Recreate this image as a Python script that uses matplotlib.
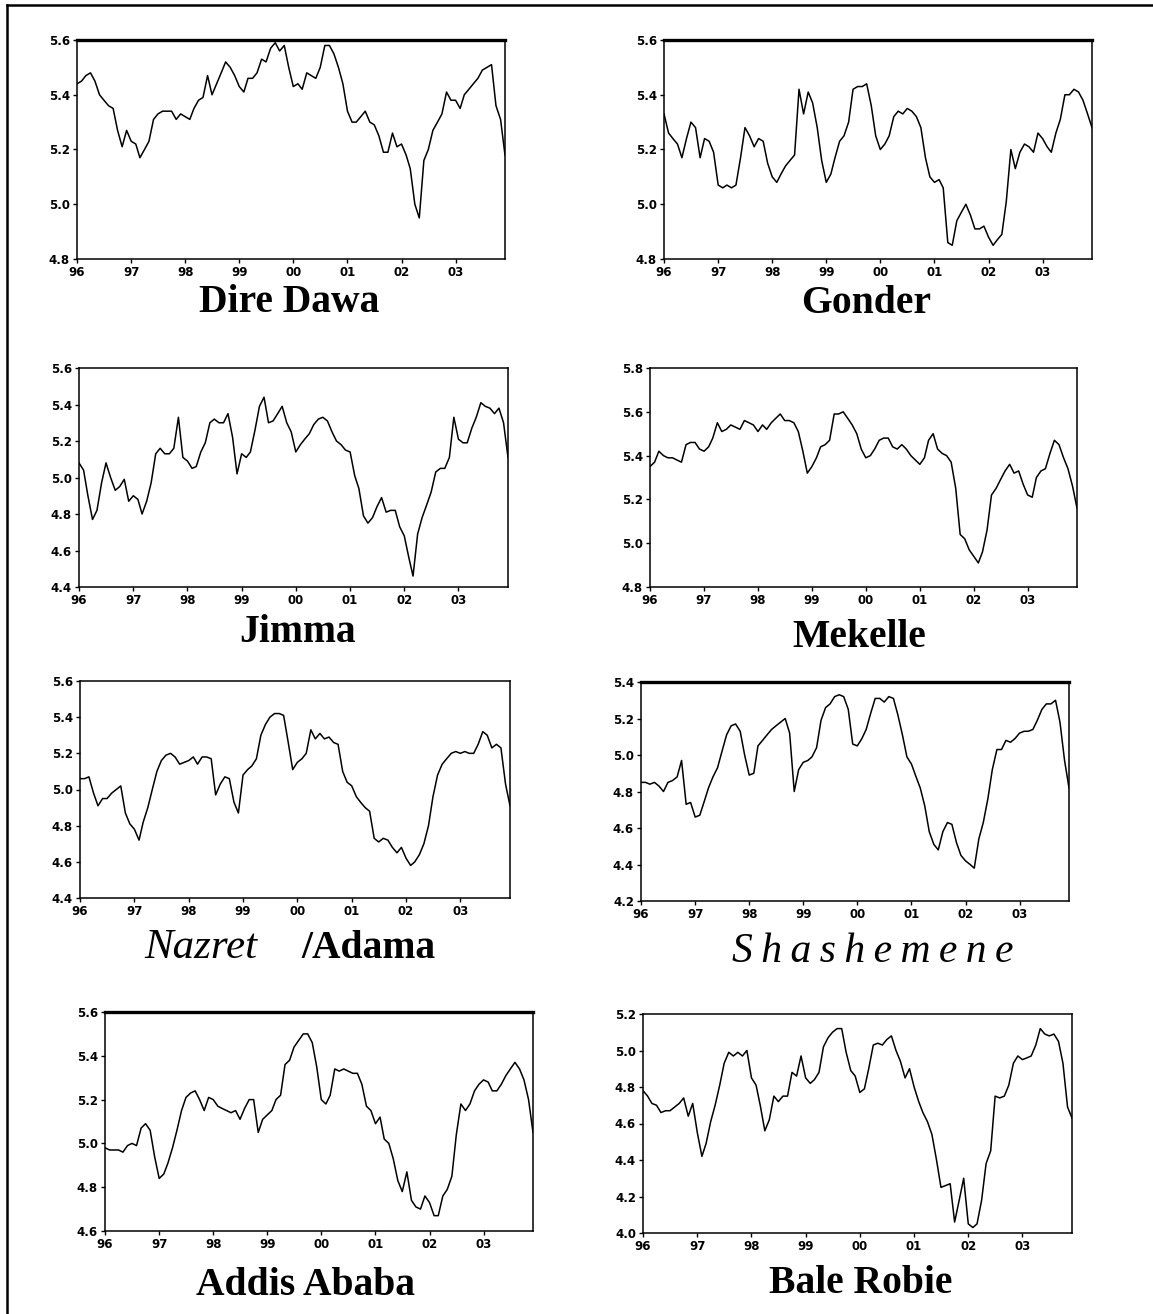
import matplotlib
matplotlib.use("Agg")
import matplotlib.pyplot as plt
import pandas as pd
from matplotlib.lines import Line2D

# monthly log prices, Jan 1996 - Dec 2003
months = pd.date_range("1996-01-01", periods=96, freq="MS")
year_ticks = pd.date_range("1996-01-01", "2003-01-01", freq="YS")

dire_dawa = [
    5.44, 5.45, 5.47, 5.48, 5.45, 5.40, 5.38, 5.36, 5.35, 5.27, 5.21, 5.27,
    5.23, 5.22, 5.17, 5.20, 5.23, 5.31, 5.33, 5.34, 5.34, 5.34, 5.31, 5.33,
    5.32, 5.31, 5.35, 5.38, 5.39, 5.47, 5.40, 5.44, 5.48, 5.52, 5.50, 5.47,
    5.43, 5.41, 5.46, 5.46, 5.48, 5.53, 5.52, 5.57, 5.59, 5.56, 5.58, 5.50,
    5.43, 5.44, 5.42, 5.48, 5.47, 5.46, 5.50, 5.58, 5.58, 5.55, 5.50, 5.44,
    5.34, 5.30, 5.30, 5.32, 5.34, 5.30, 5.29, 5.25, 5.19, 5.19, 5.26, 5.21,
    5.22, 5.18, 5.13, 5.00, 4.95, 5.16, 5.20, 5.27, 5.30, 5.33, 5.41, 5.38,
    5.38, 5.35, 5.40, 5.42, 5.44, 5.46, 5.49, 5.50, 5.51, 5.36, 5.31, 5.18,
]
gonder = [
    5.33, 5.26, 5.24, 5.22, 5.17, 5.24, 5.30, 5.28, 5.17, 5.24, 5.23, 5.19,
    5.07, 5.06, 5.07, 5.06, 5.07, 5.17, 5.28, 5.25, 5.21, 5.24, 5.23, 5.15,
    5.10, 5.08, 5.11, 5.14, 5.16, 5.18, 5.42, 5.33, 5.41, 5.37, 5.28, 5.16,
    5.08, 5.11, 5.17, 5.23, 5.25, 5.30, 5.42, 5.43, 5.43, 5.44, 5.36, 5.25,
    5.20, 5.22, 5.25, 5.32, 5.34, 5.33, 5.35, 5.34, 5.32, 5.28, 5.17, 5.10,
    5.08, 5.09, 5.06, 4.86, 4.85, 4.94, 4.97, 5.00, 4.96, 4.91, 4.91, 4.92,
    4.88, 4.85, 4.87, 4.89, 5.01, 5.20, 5.13, 5.19, 5.22, 5.21, 5.19, 5.26,
    5.24, 5.21, 5.19, 5.26, 5.31, 5.40, 5.40, 5.42, 5.41, 5.38, 5.33, 5.28,
]
jimma = [
    5.08, 5.04, 4.90, 4.77, 4.82, 4.97, 5.08, 5.00, 4.93, 4.95, 4.99, 4.87,
    4.90, 4.88, 4.80, 4.87, 4.97, 5.13, 5.16, 5.13, 5.13, 5.16, 5.33, 5.11,
    5.09, 5.05, 5.06, 5.14, 5.19, 5.30, 5.32, 5.30, 5.30, 5.35, 5.22, 5.02,
    5.13, 5.11, 5.14, 5.26, 5.39, 5.44, 5.30, 5.31, 5.35, 5.39, 5.30, 5.25,
    5.14, 5.18, 5.21, 5.24, 5.29, 5.32, 5.33, 5.31, 5.25, 5.20, 5.18, 5.15,
    5.14, 5.01, 4.94, 4.79, 4.75, 4.78, 4.84, 4.89, 4.81, 4.82, 4.82, 4.73,
    4.68, 4.56, 4.46, 4.69, 4.78, 4.85, 4.92, 5.03, 5.05, 5.05, 5.11, 5.33,
    5.21, 5.19, 5.19, 5.27, 5.33, 5.41, 5.39, 5.38, 5.35, 5.38, 5.30, 5.11,
]
mekelle = [
    5.35, 5.37, 5.42, 5.40, 5.39, 5.39, 5.38, 5.37, 5.45, 5.46, 5.46, 5.43,
    5.42, 5.44, 5.48, 5.55, 5.51, 5.52, 5.54, 5.53, 5.52, 5.56, 5.55, 5.54,
    5.51, 5.54, 5.52, 5.55, 5.57, 5.59, 5.56, 5.56, 5.55, 5.51, 5.42, 5.32,
    5.35, 5.39, 5.44, 5.45, 5.47, 5.59, 5.59, 5.60, 5.57, 5.54, 5.50, 5.43,
    5.39, 5.40, 5.43, 5.47, 5.48, 5.48, 5.44, 5.43, 5.45, 5.43, 5.40, 5.38,
    5.36, 5.39, 5.47, 5.50, 5.43, 5.41, 5.40, 5.37, 5.25, 5.04, 5.02, 4.97,
    4.94, 4.91, 4.96, 5.06, 5.22, 5.25, 5.29, 5.33, 5.36, 5.32, 5.33, 5.27,
    5.22, 5.21, 5.30, 5.33, 5.34, 5.41, 5.47, 5.45, 5.39, 5.34, 5.26, 5.16,
]
nazret = [
    5.06, 5.06, 5.07, 4.98, 4.91, 4.95, 4.95, 4.98, 5.00, 5.02, 4.87, 4.81,
    4.78, 4.72, 4.82, 4.90, 5.00, 5.10, 5.16, 5.19, 5.20, 5.18, 5.14, 5.15,
    5.16, 5.18, 5.14, 5.18, 5.18, 5.17, 4.97, 5.03, 5.07, 5.06, 4.93, 4.87,
    5.08, 5.11, 5.13, 5.17, 5.30, 5.36, 5.40, 5.42, 5.42, 5.41, 5.26, 5.11,
    5.15, 5.17, 5.20, 5.33, 5.28, 5.31, 5.28, 5.29, 5.26, 5.25, 5.10, 5.04,
    5.02, 4.96, 4.93, 4.90, 4.88, 4.73, 4.71, 4.73, 4.72, 4.68, 4.65, 4.68,
    4.62, 4.58, 4.60, 4.64, 4.70, 4.80, 4.96, 5.08, 5.14, 5.17, 5.20, 5.21,
    5.20, 5.21, 5.20, 5.20, 5.25, 5.32, 5.30, 5.23, 5.25, 5.23, 5.03, 4.91,
]
shashemene = [
    4.85, 4.85, 4.84, 4.85, 4.83, 4.80, 4.85, 4.86, 4.88, 4.97, 4.73, 4.74,
    4.66, 4.67, 4.74, 4.82, 4.88, 4.93, 5.02, 5.11, 5.16, 5.17, 5.13, 5.00,
    4.89, 4.90, 5.05, 5.08, 5.11, 5.14, 5.16, 5.18, 5.20, 5.12, 4.80, 4.92,
    4.96, 4.97, 4.99, 5.04, 5.19, 5.26, 5.28, 5.32, 5.33, 5.32, 5.25, 5.06,
    5.05, 5.09, 5.14, 5.23, 5.31, 5.31, 5.29, 5.32, 5.31, 5.22, 5.11, 4.99,
    4.95, 4.88, 4.82, 4.72, 4.58, 4.51, 4.48, 4.58, 4.63, 4.62, 4.52, 4.45,
    4.42, 4.40, 4.38, 4.54, 4.63, 4.76, 4.92, 5.03, 5.03, 5.08, 5.07, 5.09,
    5.12, 5.13, 5.13, 5.14, 5.19, 5.25, 5.28, 5.28, 5.30, 5.18, 4.97, 4.82,
]
addis_ababa = [
    4.98, 4.97, 4.97, 4.97, 4.96, 4.99, 5.00, 4.99, 5.07, 5.09, 5.06, 4.94,
    4.84, 4.86, 4.91, 4.98, 5.06, 5.15, 5.21, 5.23, 5.24, 5.20, 5.15, 5.21,
    5.20, 5.17, 5.16, 5.15, 5.14, 5.15, 5.11, 5.16, 5.20, 5.20, 5.05, 5.11,
    5.13, 5.15, 5.20, 5.22, 5.36, 5.38, 5.44, 5.47, 5.50, 5.50, 5.46, 5.35,
    5.20, 5.18, 5.22, 5.34, 5.33, 5.34, 5.33, 5.32, 5.32, 5.27, 5.17, 5.15,
    5.09, 5.12, 5.02, 5.00, 4.93, 4.83, 4.78, 4.87, 4.74, 4.71, 4.70, 4.76,
    4.73, 4.67, 4.67, 4.76, 4.79, 4.85, 5.04, 5.18, 5.15, 5.18, 5.24, 5.27,
    5.29, 5.28, 5.24, 5.24, 5.27, 5.31, 5.34, 5.37, 5.34, 5.29, 5.20, 5.05,
]
bale_robie = [
    4.78, 4.75, 4.71, 4.70, 4.66, 4.67, 4.67, 4.69, 4.71, 4.74, 4.64, 4.71,
    4.55, 4.42, 4.49, 4.61, 4.70, 4.81, 4.93, 4.99, 4.97, 4.99, 4.97, 5.00,
    4.85, 4.81, 4.70, 4.56, 4.62, 4.75, 4.72, 4.75, 4.75, 4.88, 4.86, 4.97,
    4.85, 4.82, 4.84, 4.88, 5.02, 5.07, 5.10, 5.12, 5.12, 4.99, 4.89, 4.86,
    4.77, 4.79, 4.90, 5.03, 5.04, 5.03, 5.06, 5.08, 5.00, 4.94, 4.85, 4.90,
    4.80, 4.72, 4.66, 4.61, 4.54, 4.40, 4.25, 4.26, 4.27, 4.06, 4.18, 4.30,
    4.05, 4.03, 4.05, 4.18, 4.38, 4.45, 4.75, 4.74, 4.75, 4.81, 4.93, 4.97,
    4.95, 4.96, 4.97, 5.03, 5.12, 5.09, 5.08, 5.09, 5.05, 4.93, 4.69, 4.63,
]

y_ticks = {
    "dd": [4.8, 5.0, 5.2, 5.4, 5.6],
    "go": [4.8, 5.0, 5.2, 5.4, 5.6],
    "ji": [4.4, 4.6, 4.8, 5.0, 5.2, 5.4, 5.6],
    "me": [4.8, 5.0, 5.2, 5.4, 5.6, 5.8],
    "na": [4.4, 4.6, 4.8, 5.0, 5.2, 5.4, 5.6],
    "sh": [4.2, 4.4, 4.6, 4.8, 5.0, 5.2, 5.4],
    "aa": [4.6, 4.8, 5.0, 5.2, 5.4, 5.6],
    "br": [4.0, 4.2, 4.4, 4.6, 4.8, 5.0, 5.2],
}

W, H = 1153, 1314
fig = plt.figure(figsize=(W / 100, H / 100), dpi=100)

# (key, series, box in pixels: left, top, right, bottom, thick top spine)
panels = [
    ("dd", dire_dawa, (77, 40, 505, 259), True),
    ("go", gonder, (664, 40, 1092, 259), True),
    ("ji", jimma, (79, 368, 508, 587), False),
    ("me", mekelle, (650, 368, 1077, 587), False),
    ("na", nazret, (80, 681, 510, 898), False),
    ("sh", shashemene, (641, 682, 1069, 901), True),
    ("aa", addis_ababa, (105, 1012, 533, 1231), True),
    ("br", bale_robie, (643, 1014, 1072, 1233), False),
]

for key, series, (l, t, r, b), thick_top in panels:
    ax = fig.add_axes([l / W, 1 - b / H, (r - l) / W, (b - t) / H])
    ax.plot(months, series, color="black", linewidth=1.1)

    ticks = y_ticks[key]
    ax.set_ylim(ticks[0], ticks[-1])
    ax.set_yticks(ticks)
    ax.set_yticklabels([f"{v:.1f}" for v in ticks])

    ax.set_xlim(months[0], months[-1])
    ax.set_xticks(year_ticks)
    ax.set_xticklabels([d.strftime("%y") for d in year_ticks])

    ax.tick_params(direction="out", length=3, width=1, pad=2,
                   labelsize=8.5, colors="black")
    for lab in ax.get_xticklabels() + ax.get_yticklabels():
        lab.set_fontweight("bold")
        lab.set_family("DejaVu Sans")

    for side in ["left", "right", "bottom", "top"]:
        ax.spines[side].set_linewidth(1.1)
    if thick_top:
        ax.spines["top"].set_linewidth(2.4)

# panel titles
serif = "Liberation Serif"
title_kw = dict(ha="center", va="baseline", family=serif, fontsize=28.5)


def px(x, y):
    return x / W, 1 - y / H


fig.text(*px(289, 312), "Dire Dawa", fontweight="bold", **title_kw)
fig.text(*px(866, 313), "Gonder", fontweight="bold", **title_kw)
fig.text(*px(298, 642), "Jimma", fontweight="bold", **title_kw)
fig.text(*px(859, 647), "Mekelle", fontweight="bold", **title_kw)
fig.text(*px(201, 958), "Nazret", fontstyle="italic", ha="center",
         va="baseline", family=serif, fontsize=31)
fig.text(*px(368, 958), "/Adama", fontweight="bold", **title_kw)
fig.text(*px(873, 962), "\u2009".join("Shashemene"), fontstyle="italic",
         ha="center", va="baseline", family=serif, fontsize=30)
fig.text(*px(305, 1295), "Addis Ababa", fontweight="bold", **title_kw)
fig.text(*px(861, 1293), "Bale Robie", fontweight="bold", **title_kw)

# outer frame (left and top rules)
fig.add_artist(Line2D([7 / W, 7 / W], [0, 1 - 5 / H], color="black",
                      linewidth=1.8))
fig.add_artist(Line2D([7 / W, 1], [1 - 5 / H, 1 - 5 / H], color="black",
                      linewidth=1.8))

fig.savefig("out.png", dpi=100, facecolor="white")
